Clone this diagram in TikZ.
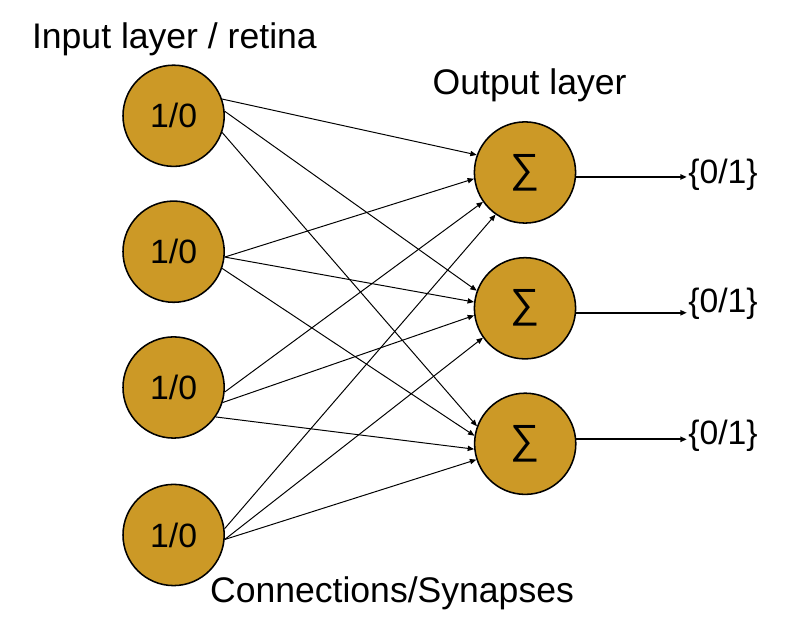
\documentclass[tikz,border=0pt]{standalone}
\usepackage{fontspec}
\setmainfont{Liberation Sans}
\usepackage{tikz}
\usetikzlibrary{positioning,arrows.meta}
\usepackage{xcolor}
\definecolor{neurongold}{RGB}{204,153,38}
\tikzset{neuron/.style={
		circle, draw=black, line width=1.1pt, fill=neurongold,
		minimum size=2.53cm, inner sep=0pt,
		font=\fontsize{24}{28}\selectfont
	},
	sumneuron/.style={neuron, font=\fontsize{29}{34}\selectfont},
	synapse/.style={line width=0.7pt, -{Triangle[length=1.6mm,width=1.3mm]}},
	outline/.style={line width=1.3pt, -{Triangle[length=1.6mm,width=1.3mm]}},
	layertext/.style={anchor=base, inner sep=0pt, font=\fontsize{25.3}{30}\selectfont}
}

\begin{document}
\begin{tikzpicture}
		\useasboundingbox (0,0) rectangle (19.85,15.6);
		
		% input layer
		\node[neuron] (in1) at (4.34, 12.705) {1/0};
		\node[neuron] (in2) at (4.34, 9.3075) {1/0};
		\node[neuron] (in3) at (4.34, 5.9125) {1/0};
		\node[neuron] (in4) at (4.34, 2.225) {1/0};
		
		% output layer
		\node[sumneuron] (out1) at (13.125, 11.2875) {∑};
		\node[sumneuron] (out2) at (13.125, 7.8925) {∑};
		\node[sumneuron] (out3) at (13.13, 4.505) {∑};
		
		% synapses
		\draw[synapse] (in1.19) -- (out1.160);
		\draw[synapse] (in1.5) -- (out2.160);
		\draw[synapse] (in1.-19) -- (out3.160);
		
		\draw[synapse] (in2.-6) -- (out1.187.5);
		\draw[synapse] (in2.-6) -- (out2.173);
		\draw[synapse] (in2.-19) -- (out3.171);
		
		\draw[synapse] (in3.-5) -- (out1.215.5);
		\draw[synapse] (in3.-17.5) -- (out2.188);
		\draw[synapse] (in3.-35.5) -- (out3.186);
		
		\draw[synapse] (in4.7) -- (out1.235.7);
		\draw[synapse] (in4.-5) -- (out2.215);
		\draw[synapse] (in4.-5) -- (out3.198);
		
		% outputs
		\coordinate (tip) at (17.17, 0);
		\draw[outline] (out1.-5) -- (out1.-5 -| tip);
		\draw[outline] (out2.-5) -- (out2.-5 -| tip);
		\draw[outline] (out3.5) -- (out3.5 -| tip);
		
		\node[layertext, anchor=base west, font=\fontsize{24}{28}\selectfont] (res1) at (17.2, 11.0175) {\{0/1\}};
		\node[layertext, anchor=base west, font=\fontsize{24}{28}\selectfont] (res2) at (17.2, 7.775) {\{0/1\}};
		\node[layertext, anchor=base west, font=\fontsize{24}{28}\selectfont] (res3) at (17.2, 4.475) {\{0/1\}};
		
		% captions
		\node[layertext] (inlayer) at (4.36, 14.3925) {Input layer / retina};
		\node[layertext] (outlayer) at (13.24, 13.225) {Output layer};
		\node[layertext] (synlayer) at (9.8, 0.5325) {Connections/Synapses};
	\end{tikzpicture}
\end{document}
